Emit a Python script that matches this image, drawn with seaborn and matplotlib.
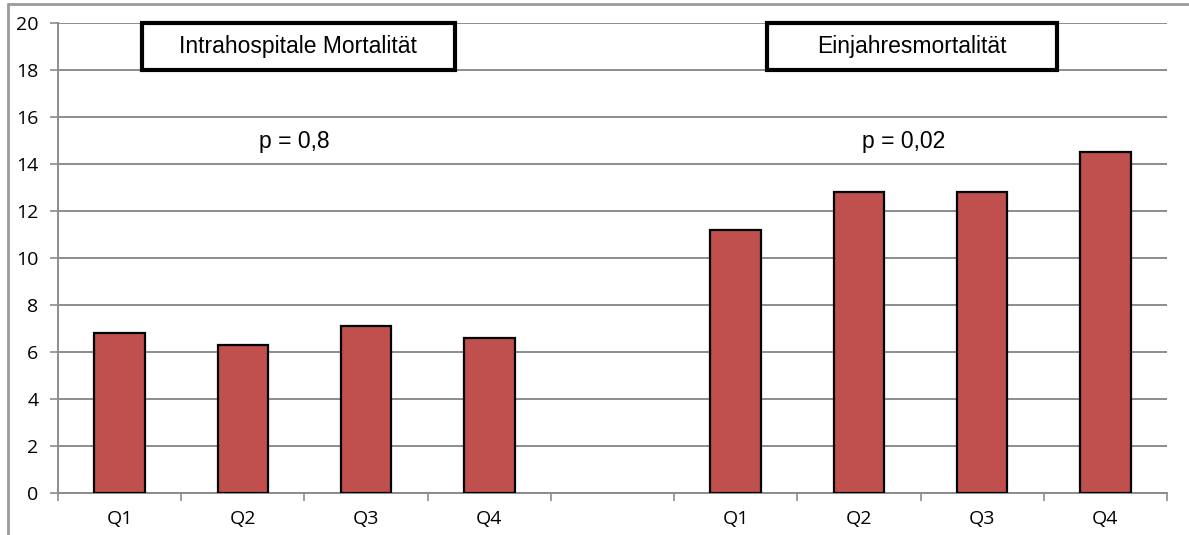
import matplotlib
matplotlib.use("Agg")
import matplotlib.pyplot as plt
from matplotlib.lines import Line2D
from matplotlib.patches import Rectangle
import numpy as np
import pandas as pd
import seaborn as sns

# Mortality (%) by quartile, two endpoints separated by an empty slot
quartiles = ["Q1", "Q2", "Q3", "Q4"]
in_hospital = [6.8, 6.3, 7.1, 6.6]
one_year = [11.2, 12.8, 12.8, 14.5]
tick_labels = quartiles + [""] + quartiles
panel_titles = ["Intrahospitale Mortalität", "Einjahresmortalität"]
p_values = ["p = 0,8", "p = 0,02"]
y_ticks = list(range(0, 21, 2))

slots = list(range(9))
df = pd.DataFrame({
    "slot": [0, 1, 2, 3, 5, 6, 7, 8],
    "value": in_hospital + one_year,
})

sns.set_theme(style="white")
plt.rcParams["font.family"] = ["Liberation Sans", "DejaVu Sans"]

fig = plt.figure(figsize=(11.89, 5.35), dpi=100)
ax = fig.add_axes([58 / 1189, 42 / 535, (1167 - 58) / 1189, 470 / 535])

sns.barplot(data=df, x="slot", y="value", order=slots, color="#C0504D",
            saturation=1, width=0.41, edgecolor="black", linewidth=1.6,
            ax=ax, zorder=3)

ax.set_xlim(-0.5, 8.5)
ax.set_ylim(0, 20)
ax.set_yticks(y_ticks)
ax.set_yticklabels([str(v) for v in y_ticks], fontsize=14, family="Open Sans")
ax.set_xticks(slots)
ax.set_xticklabels(tick_labels, fontsize=14, family="Open Sans")
ax.set_xticks(np.arange(-0.5, 9.0, 1.0), minor=True)
ax.tick_params(axis="x", which="major", length=0, pad=12, labelcolor="black")
ax.tick_params(axis="x", which="minor", length=6, width=1.2, color="#8c8c8c",
               direction="out", bottom=True)
ax.tick_params(axis="y", which="major", length=6, width=1.2, color="#8c8c8c",
               direction="out", left=True, pad=8, labelcolor="black")
ax.set_xlabel("")
ax.set_ylabel("")

ax.yaxis.grid(True, color="#8c8c8c", linewidth=1.4, zorder=0)
ax.set_axisbelow(True)
for side in ("top", "right"):
    ax.spines[side].set_visible(False)
for side in ("left", "bottom"):
    ax.spines[side].set_color("#8c8c8c")
    ax.spines[side].set_linewidth(1.4)

# Titled boxes for both panels
box_spans = [(0.18, 2.72), (5.255, 7.61)]
for (x0, x1), title in zip(box_spans, panel_titles):
    ax.add_patch(Rectangle((x0, 18), x1 - x0, 2, facecolor="white",
                           edgecolor="black", linewidth=3, zorder=5,
                           clip_on=False))
    ax.text((x0 + x1) / 2, 19, title, ha="center", va="center",
            fontsize=16.5, color="black", zorder=6)

p_positions = [1.42, 6.36]
for xp, label in zip(p_positions, p_values):
    ax.text(xp, 14.95, label, ha="center", va="center", fontsize=16.5,
            color="black", zorder=6)

# Outer frame along the top and left edges
frame_color = "#9a9a9a"
fig.add_artist(Line2D([8 / 1189, 8 / 1189], [0, 1 - 4 / 535],
                      transform=fig.transFigure, color=frame_color, lw=2))
fig.add_artist(Line2D([8 / 1189, 1], [1 - 4 / 535, 1 - 4 / 535],
                      transform=fig.transFigure, color=frame_color, lw=2))

fig.savefig("out.png", dpi=100)
